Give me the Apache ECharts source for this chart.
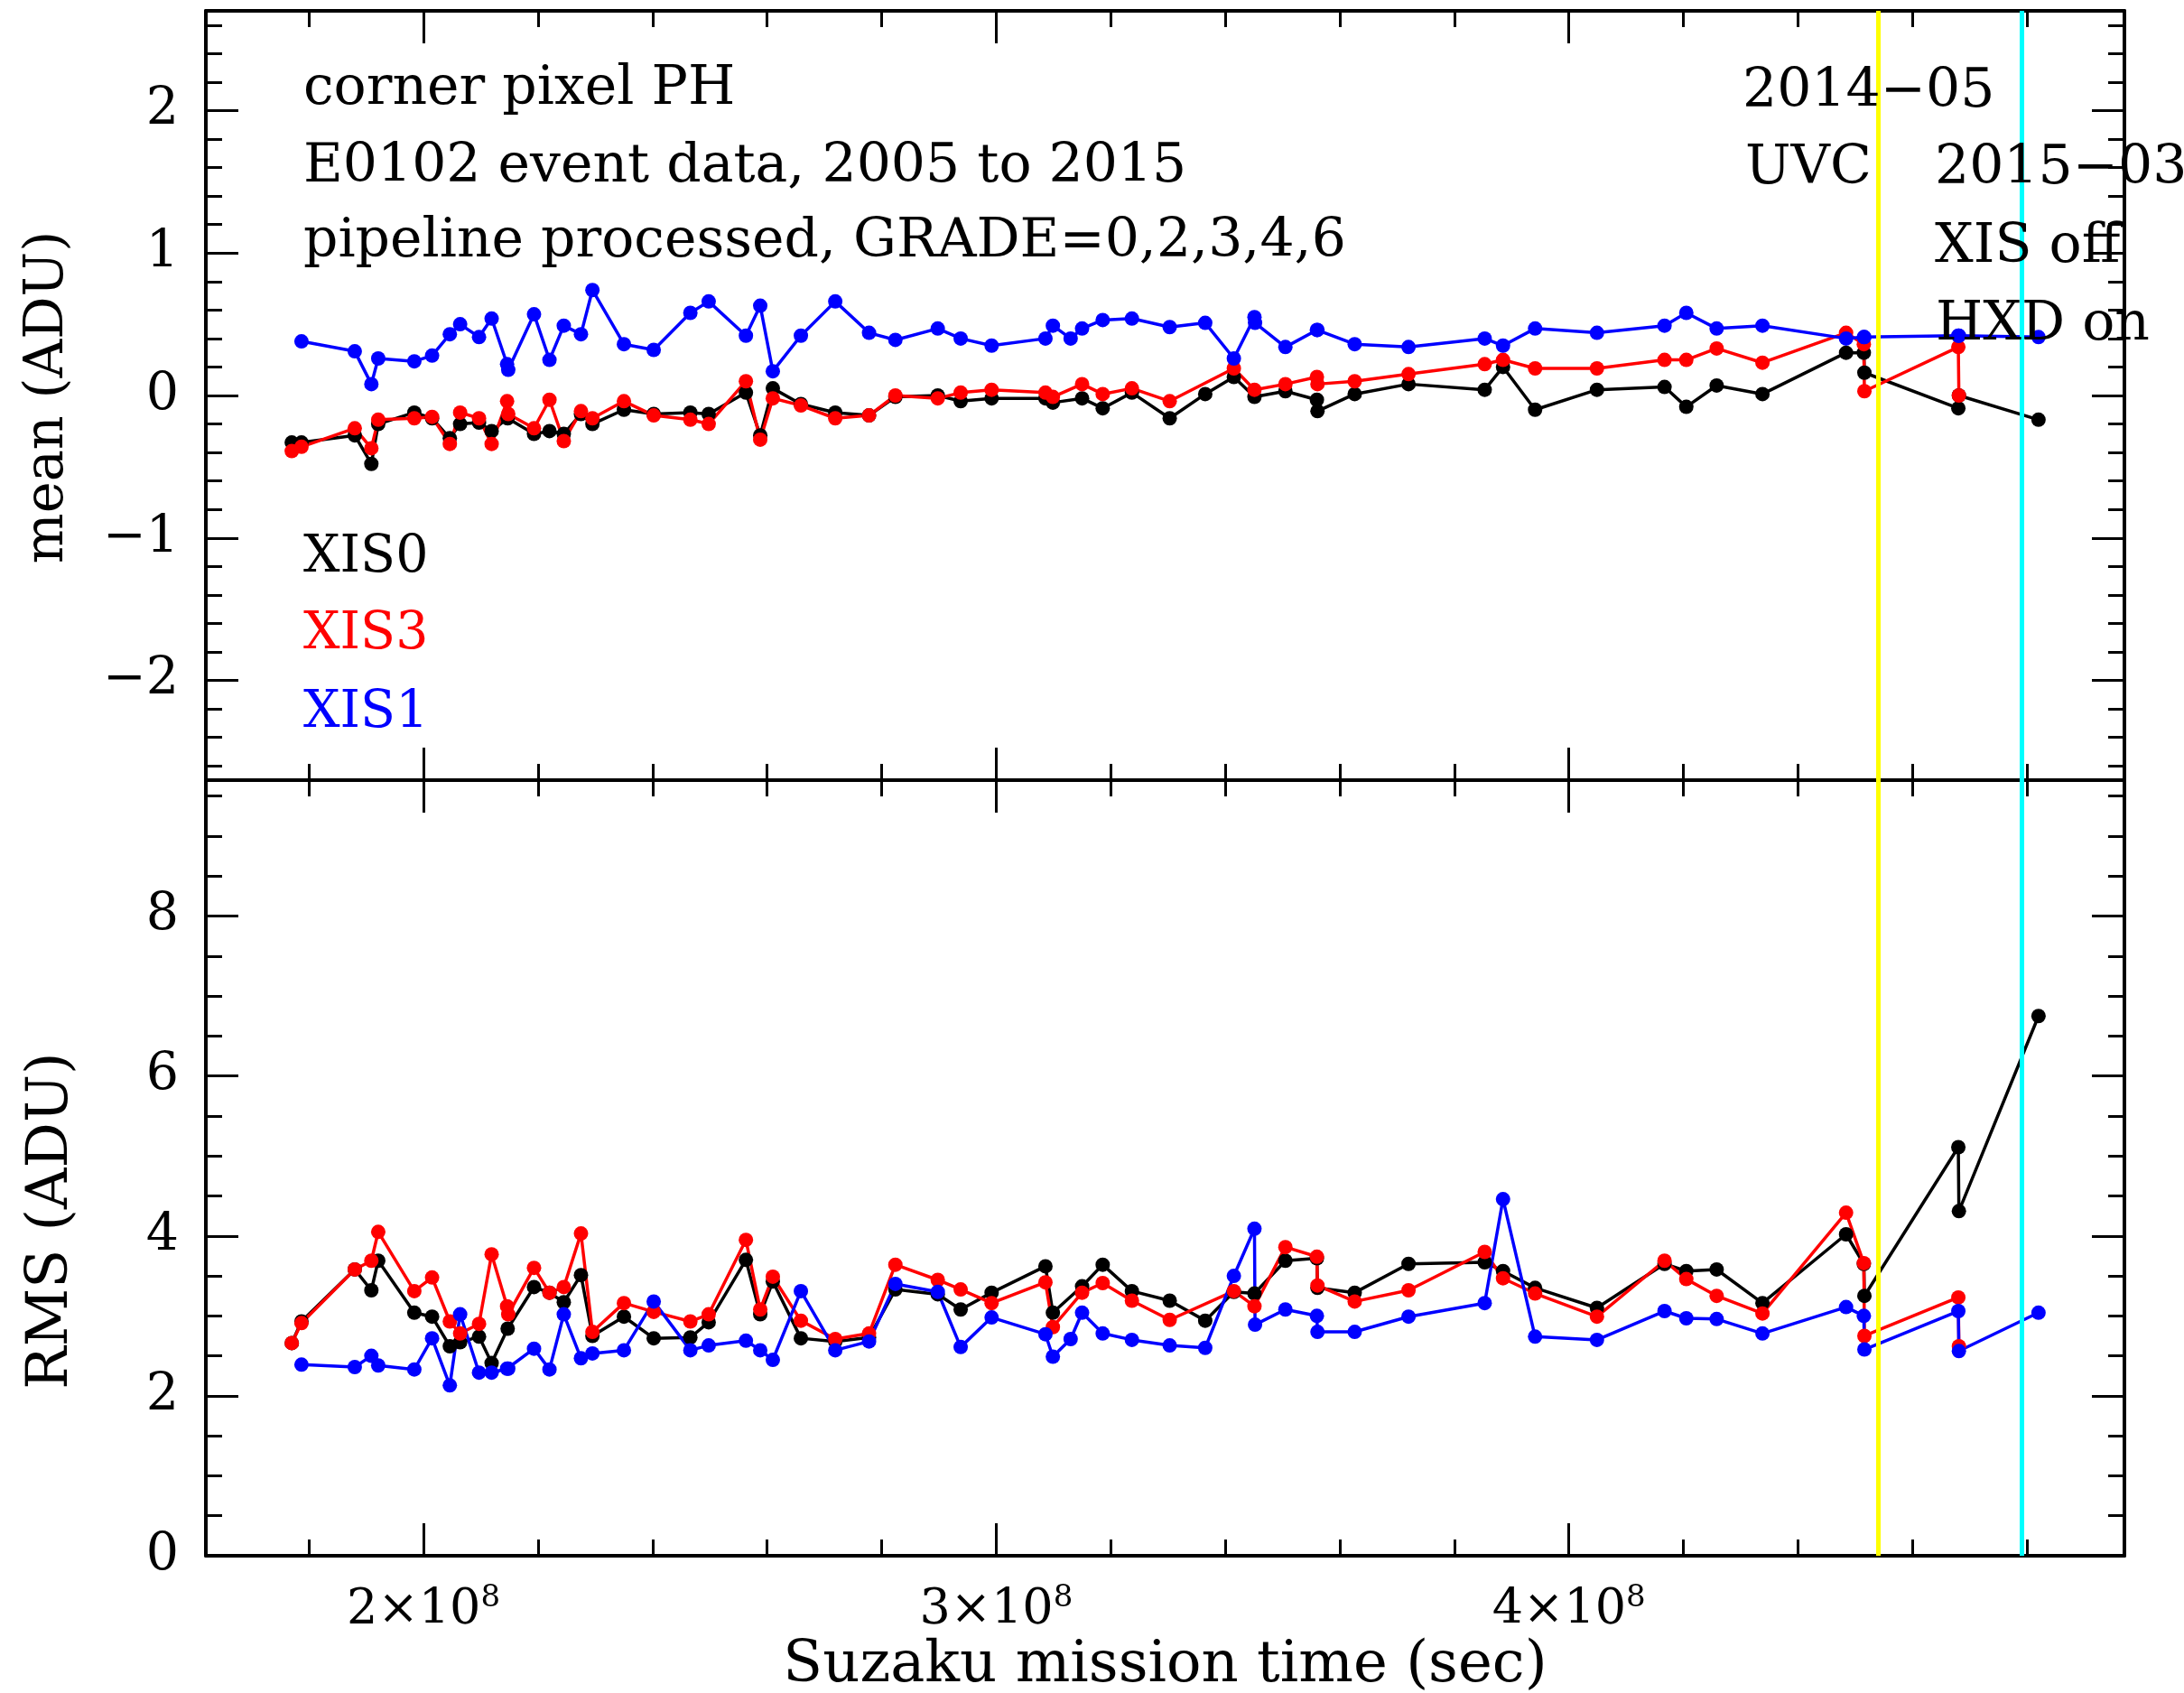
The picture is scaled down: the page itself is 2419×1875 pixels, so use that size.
<!DOCTYPE html>
<html>
<head>
<meta charset="utf-8">
<script src="https://cdn.jsdelivr.net/npm/echarts@6/dist/echarts.min.js"></script>
<style>
html, body { margin: 0; padding: 0; background: #fff; }
#chart { width: 2419px; height: 1875px; }
</style>
</head>
<body>
<div id="chart"></div>
<script>
// Suzaku mission time, in units of 1e8 sec
var xis0Time = [1.770,1.787,1.880,1.909,1.921,1.984,2.015,2.046,2.064,2.097,2.119,2.147,2.193,2.220,2.245,2.275,2.295,2.350,2.402,2.466,2.498,2.563,2.588,2.610,2.659,2.719,2.778,2.824,2.898,2.938,2.992,3.086,3.099,3.150,3.186,3.237,3.303,3.365,3.415,3.451,3.505,3.560,3.561,3.626,3.720,3.853,3.885,3.941,4.049,4.167,4.205,4.258,4.338,4.484,4.515,4.516,4.680,4.681,4.820];
var xis0Mean = [-0.33,-0.33,-0.28,-0.48,-0.20,-0.12,-0.16,-0.30,-0.20,-0.19,-0.25,-0.16,-0.27,-0.25,-0.27,-0.13,-0.20,-0.10,-0.13,-0.12,-0.13,0.02,-0.28,0.05,-0.06,-0.12,-0.14,-0.01,0.00,-0.04,-0.02,-0.02,-0.05,-0.02,-0.09,0.02,-0.16,0.01,0.13,-0.01,0.03,-0.03,-0.11,0.01,0.08,0.04,0.20,-0.10,0.04,0.06,-0.08,0.07,0.01,0.30,0.30,0.16,-0.09,0.00,-0.17];
var xis0Rms = [2.66,2.93,3.58,3.32,3.69,3.04,2.99,2.62,2.67,2.74,2.41,2.84,3.36,3.29,3.17,3.51,2.75,2.99,2.72,2.73,2.92,3.70,3.02,3.43,2.72,2.68,2.73,3.33,3.27,3.08,3.29,3.62,3.04,3.37,3.64,3.31,3.19,2.94,3.30,3.28,3.69,3.72,3.35,3.29,3.65,3.67,3.56,3.35,3.10,3.65,3.56,3.58,3.16,4.02,3.65,3.25,5.11,4.31,6.75];

var xis3Time = [1.770,1.787,1.880,1.909,1.921,1.984,2.015,2.046,2.064,2.097,2.119,2.146,2.148,2.193,2.220,2.245,2.275,2.295,2.350,2.402,2.466,2.498,2.563,2.588,2.610,2.659,2.719,2.778,2.824,2.898,2.938,2.992,3.086,3.099,3.150,3.186,3.237,3.303,3.415,3.451,3.505,3.560,3.561,3.626,3.720,3.853,3.885,3.941,4.049,4.167,4.205,4.258,4.338,4.484,4.515,4.516,4.680,4.681];
var xis3Mean = [-0.39,-0.36,-0.23,-0.37,-0.17,-0.16,-0.15,-0.34,-0.12,-0.16,-0.34,-0.04,-0.13,-0.23,-0.03,-0.32,-0.11,-0.16,-0.04,-0.14,-0.17,-0.20,0.10,-0.31,-0.02,-0.07,-0.16,-0.14,0.00,-0.02,0.02,0.04,0.02,-0.01,0.08,0.01,0.05,-0.04,0.19,0.04,0.08,0.13,0.08,0.10,0.15,0.22,0.25,0.19,0.19,0.25,0.25,0.33,0.23,0.44,0.36,0.03,0.34,0.00];
var xis3Rms = [2.66,2.91,3.58,3.69,4.05,3.31,3.48,2.93,2.78,2.90,3.77,3.12,3.02,3.60,3.29,3.36,4.03,2.80,3.16,3.05,2.93,3.02,3.95,3.08,3.49,2.94,2.71,2.78,3.64,3.45,3.33,3.16,3.42,2.86,3.29,3.41,3.19,2.95,3.31,3.12,3.86,3.74,3.38,3.18,3.32,3.80,3.47,3.28,2.99,3.69,3.46,3.25,3.03,4.29,3.66,2.75,3.23,2.62];

var xis1Time = [1.787,1.880,1.909,1.921,1.984,2.015,2.046,2.064,2.097,2.119,2.146,2.148,2.193,2.220,2.245,2.275,2.295,2.350,2.402,2.466,2.498,2.563,2.588,2.610,2.659,2.719,2.778,2.824,2.898,2.938,2.992,3.086,3.099,3.130,3.150,3.186,3.237,3.303,3.365,3.415,3.451,3.452,3.505,3.560,3.561,3.626,3.720,3.853,3.885,3.941,4.049,4.167,4.205,4.258,4.338,4.484,4.515,4.516,4.680,4.681,4.820];
var xis1Mean = [0.38,0.31,0.08,0.26,0.24,0.28,0.43,0.50,0.41,0.54,0.22,0.18,0.57,0.25,0.49,0.43,0.74,0.36,0.32,0.58,0.66,0.42,0.63,0.17,0.42,0.66,0.44,0.39,0.47,0.40,0.35,0.40,0.49,0.40,0.47,0.53,0.54,0.48,0.51,0.26,0.55,0.51,0.34,0.46,0.46,0.36,0.34,0.40,0.35,0.47,0.44,0.49,0.58,0.47,0.49,0.40,0.41,0.41,0.42,0.42,0.41];
var xis1Rms = [2.39,2.36,2.50,2.38,2.33,2.72,2.13,3.02,2.29,2.29,2.34,2.34,2.59,2.33,3.02,2.47,2.53,2.57,3.18,2.57,2.63,2.69,2.57,2.45,3.31,2.57,2.68,3.40,3.30,2.61,2.98,2.77,2.49,2.71,3.04,2.78,2.70,2.63,2.60,3.50,4.09,2.89,3.08,3.00,2.80,2.80,2.99,3.16,4.46,2.74,2.70,3.06,2.97,2.96,2.78,3.11,3.00,2.58,3.06,2.56,3.04];

// 2014-05 UVC and 2015-03 XIS off / HXD on
var eventTimes = [4.54, 4.793];
var eventColors = ['#ffff00', '#00ffff'];

// tick labels / tick positions
var xMajorTicks = [2, 3, 4];
var xMinorTicks = [1.8, 2.2, 2.4, 2.6, 2.8, 3.2, 3.4, 3.6, 3.8, 4.2, 4.4, 4.6, 4.8];
var meanMajorTicks = [-2, -1, 0, 1, 2];
var meanMinorTicks = [-2.6,-2.4,-2.2,-1.8,-1.6,-1.4,-1.2,-0.8,-0.6,-0.4,-0.2,0.2,0.4,0.6,0.8,1.2,1.4,1.6,1.8,2.2,2.4,2.6];
var rmsMajorTicks = [0, 2, 4, 6, 8];
var rmsMinorTicks = [0.5,1,1.5,2.5,3,3.5,4.5,5,5.5,6.5,7,7.5,8.5,9,9.5];

var FONT = 'DejaVu Serif';

var makeAxis = function(grid, pos, min, max, ticks, len, showLine, label) {
  var axis = {
    type: 'value', gridIndex: grid, position: pos, min: min, max: max,
    splitLine: { show: false },
    axisLine: { show: showLine, onZero: false, lineStyle: { color: '#000', width: 4 } },
    axisTick: { show: true, inside: true, length: len, customValues: ticks, lineStyle: { color: '#000', width: 3 } },
    axisLabel: { show: false }
  };
  if (label) axis.axisLabel = label;
  return axis;
};

var xLabel = {
  show: true, customValues: xMajorTicks, margin: 30, color: '#000', fontFamily: FONT,
  formatter: function(v) { return '{m|' + v + '×10}{s|8}'; },
  rich: {
    m: { fontSize: 54, lineHeight: 62, fontFamily: FONT, color: '#000' },
    s: { fontSize: 34, lineHeight: 34, verticalAlign: 'top', fontFamily: FONT, color: '#000' }
  }
};
var yLabel = function(ticks) {
  return {
    show: true, customValues: ticks, margin: 30, color: '#000', fontFamily: FONT, fontSize: 57,
    formatter: function(v) { return v < 0 ? '\u2212' + Math.abs(v) : String(v); }
  };
};

var xAxes = [], yAxes = [];
[0, 1].forEach(function(g) {
  xAxes.push(makeAxis(g, 'bottom', 1.62, 4.97, xMajorTicks, 36, true, g == 1 ? xLabel : null));
  xAxes.push(makeAxis(g, 'top', 1.62, 4.97, xMajorTicks, 36, true, null));
  xAxes.push(makeAxis(g, 'bottom', 1.62, 4.97, xMinorTicks, 18, false, null));
  xAxes.push(makeAxis(g, 'top', 1.62, 4.97, xMinorTicks, 18, false, null));
});
yAxes.push(makeAxis(0, 'left', -2.7, 2.7, meanMajorTicks, 36, true, yLabel(meanMajorTicks)));
yAxes.push(makeAxis(0, 'right', -2.7, 2.7, meanMajorTicks, 36, true, null));
yAxes.push(makeAxis(0, 'left', -2.7, 2.7, meanMinorTicks, 18, false, null));
yAxes.push(makeAxis(0, 'right', -2.7, 2.7, meanMinorTicks, 18, false, null));
yAxes.push(makeAxis(1, 'left', 0, 9.7, rmsMajorTicks, 36, true, yLabel(rmsMajorTicks)));
yAxes.push(makeAxis(1, 'right', 0, 9.7, rmsMajorTicks, 36, true, null));
yAxes.push(makeAxis(1, 'left', 0, 9.7, rmsMinorTicks, 18, false, null));
yAxes.push(makeAxis(1, 'right', 0, 9.7, rmsMinorTicks, 18, false, null));

xAxes[4].name = 'Suzaku mission time (sec)';
xAxes[4].nameLocation = 'middle';
xAxes[4].nameGap = 90;
xAxes[4].nameTextStyle = { fontSize: 64, fontFamily: FONT, color: '#000' };

var lineSeries = function(name, color, axisIdx, times, vals, withEvents) {
  var s = {
    type: 'line', name: name, xAxisIndex: axisIdx, yAxisIndex: axisIdx,
    data: times.map(function(t, i) { return [t, vals[i]]; }),
    symbol: 'circle', symbolSize: 16, showSymbol: true,
    lineStyle: { color: color, width: 3.5 }, itemStyle: { color: color },
    silent: true, animation: false
  };
  if (withEvents) {
    s.markLine = {
      silent: true, symbol: ['none', 'none'], label: { show: false }, z: 10, animation: false,
      data: eventTimes.map(function(t, i) {
        return { xAxis: t, lineStyle: { color: eventColors[i], width: 5, type: 'solid' } };
      })
    };
  }
  return s;
};

var txt = function(x, y, text, color, size) {
  return { type: 'text', x: x, y: y, z: 100,
    style: { text: text, fill: color || '#000', fontSize: size || 60, fontFamily: FONT, textVerticalAlign: 'middle' } };
};

var chart = echarts.init(document.getElementById('chart'));
chart.setOption({
  backgroundColor: '#fff',
  animation: false,
  grid: [
    { left: 228, top: 12, width: 2125, height: 852, outerBoundsMode: 'none' },
    { left: 228, top: 864, width: 2125, height: 859, outerBoundsMode: 'none' }
  ],
  xAxis: xAxes,
  yAxis: yAxes,
  series: [
    lineSeries('XIS0', '#000000', 0, xis0Time, xis0Mean, false),
    lineSeries('XIS3', '#ff0000', 0, xis3Time, xis3Mean, false),
    lineSeries('XIS1', '#0000ff', 0, xis1Time, xis1Mean, true),
    lineSeries('XIS0', '#000000', 4, xis0Time, xis0Rms, false),
    lineSeries('XIS3', '#ff0000', 4, xis3Time, xis3Rms, false),
    lineSeries('XIS1', '#0000ff', 4, xis1Time, xis1Rms, true)
  ],
  graphic: [
    txt(336, 99, 'corner pixel PH'),
    txt(336, 185, 'E0102 event data, 2005 to 2015'),
    txt(336, 268, 'pipeline processed, GRADE=0,2,3,4,6'),
    txt(336, 618, 'XIS0', '#000000', 57),
    txt(336, 703, 'XIS3', '#ff0000', 57),
    txt(336, 790, 'XIS1', '#0000ff', 57),
    txt(1930, 102, '2014\u221205'),
    txt(1933, 187, 'UVC'),
    txt(2143, 187, '2015\u221203'),
    txt(2143, 274, 'XIS off'),
    txt(2144, 360, 'HXD on'),
    { type: 'text', x: 54, y: 440, rotation: Math.PI / 2, z: 100,
      style: { text: 'mean (ADU)', fill: '#000', fontSize: 59, fontFamily: FONT, textAlign: 'center', textVerticalAlign: 'middle' } },
    { type: 'text', x: 58, y: 1352, rotation: Math.PI / 2, z: 100,
      style: { text: 'RMS (ADU)', fill: '#000', fontSize: 63, fontFamily: FONT, textAlign: 'center', textVerticalAlign: 'middle' } }
  ]
});
</script>
</body>
</html>
